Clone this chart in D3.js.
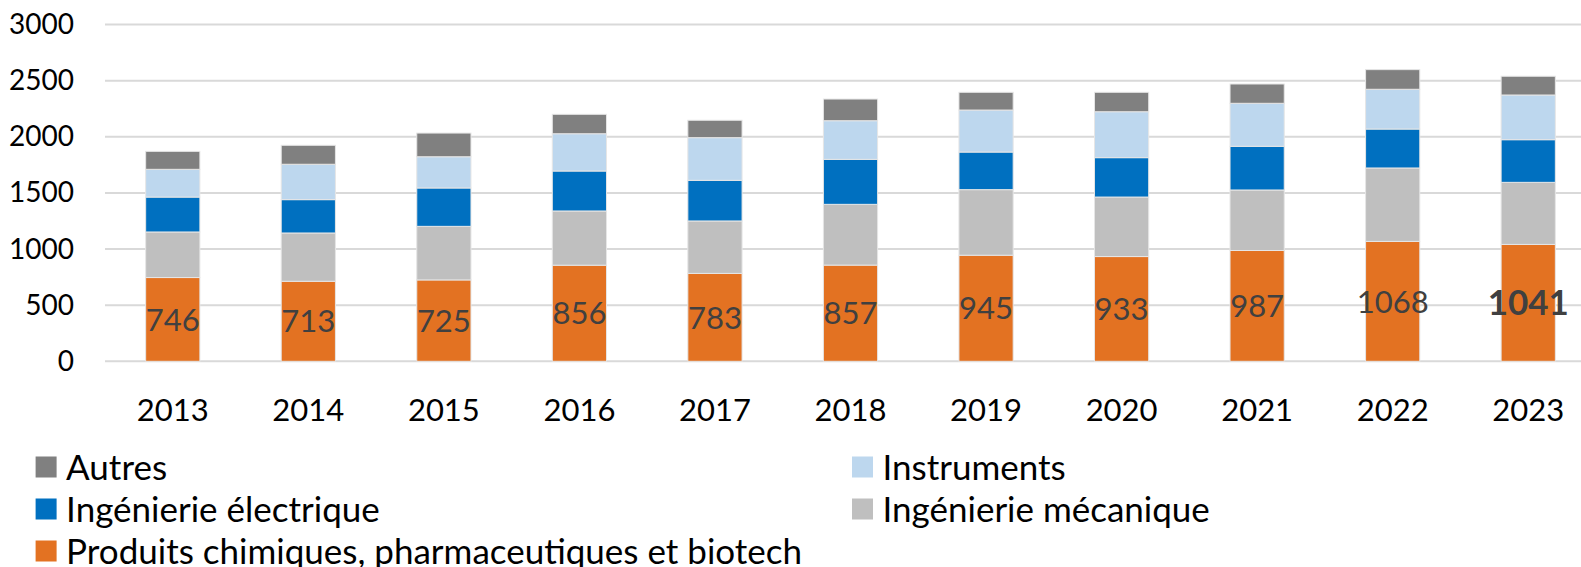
<!DOCTYPE html>
<html>
<head>
<meta charset="utf-8">
<script src="https://cdn.jsdelivr.net/npm/d3@7"></script>
<style>
	html, body { margin: 0; padding: 0; background: #fff; }
	svg { display: block; font-family: Lato, 'Noto Sans', sans-serif; }
</style>
</head>
<body>
<div id="chart"></div>
<script>
// values (stack order, bottom to top)
var years = ['2013', '2014', '2015', '2016', '2017', '2018', '2019', '2020', '2021', '2022', '2023'];
var chimie = [746, 713, 725, 856, 783, 857, 945, 933, 987, 1068, 1041];
var mecanique = [406, 430, 477, 483, 467, 541, 584, 530, 539, 654, 553];
var electrique = [311, 297, 342, 356, 362, 401, 335, 351, 389, 347, 380];
var instruments = [247, 315, 278, 332, 380, 344, 374, 409, 383, 354, 398];
var autres = [160, 169, 211, 173, 155, 193, 158, 173, 172, 175, 167];
var yTicks = [0, 500, 1000, 1500, 2000, 2500, 3000];

var seriesNames = ['Produits chimiques, pharmaceutiques et biotech', 'Ingénierie mécanique',
	'Ingénierie électrique', 'Instruments', 'Autres'];
var seriesValues = [chimie, mecanique, electrique, instruments, autres];
var colors = ['#e37222', '#bfbfbf', '#0070c0', '#bdd7ee', '#808080'];

var width = 1581, height = 567;
var margin = {left: 105, right: -15, top: 24.5, bottom: 205.7};

var svg = d3.select('#chart')
	.append('svg')
	.attr('width', width)
	.attr('height', height);

// build rows for the stack layout
var rows = years.map(function(y, i) {
	var row = {year: y};
	seriesNames.forEach(function(name, s) { row[name] = seriesValues[s][i]; });
	return row;
});
var stacked = d3.stack().keys(seriesNames)(rows);

var x = d3.scaleBand()
	.domain(years)
	.range([margin.left, width - margin.right])
	.paddingInner(0.6)
	.paddingOuter(0.3);

var y = d3.scaleLinear()
	.domain([0, 3000])
	.range([height - margin.bottom, margin.top]);

// gridlines
svg.append('g')
	.selectAll('line')
	.data(yTicks)
	.enter().append('line')
	.attr('x1', margin.left)
	.attr('x2', width - margin.right)
	.attr('y1', function(d) { return y(d); })
	.attr('y2', function(d) { return y(d); })
	.attr('stroke', '#d9d9d9')
	.attr('stroke-width', 2);

// y axis labels
var yAxis = d3.axisLeft(y).tickValues(yTicks).tickFormat(d3.format('d')).tickSize(0).tickPadding(0);
svg.append('g')
	.attr('transform', 'translate(74,0)')
	.call(yAxis)
	.call(function(g) { g.select('.domain').remove(); })
	.selectAll('text')
	.attr('font-family', 'Lato')
	.attr('font-size', 28)
	.attr('fill', '#000');

// x axis labels
var xAxis = d3.axisBottom(x).tickSize(0).tickPadding(0);
svg.append('g')
	.attr('transform', 'translate(0,' + 410 + ')')
	.call(xAxis)
	.call(function(g) { g.select('.domain').remove(); })
	.selectAll('text')
	.attr('dy', '0.35em')
	.attr('font-family', 'Lato')
	.attr('font-size', 31)
	.attr('fill', '#000');

// bars
var layers = svg.selectAll('.layer')
	.data(stacked)
	.enter().append('g')
	.attr('class', 'layer')
	.attr('fill', function(d, i) { return colors[i]; });

layers.selectAll('rect')
	.data(function(d) { return d; })
	.enter().append('rect')
	.attr('x', function(d) { return x(d.data.year); })
	.attr('y', function(d) { return y(d[1]); })
	.attr('width', x.bandwidth())
	.attr('height', function(d) { return y(d[0]) - y(d[1]); })
	.attr('stroke', '#e6e6e6')
	.attr('stroke-width', 1);

// data labels on the bottom series, last one in bold
var last = years.length - 1;
svg.append('g')
	.selectAll('text')
	.data(stacked[0])
	.enter().append('text')
	.attr('x', function(d) { return x(d.data.year) + x.bandwidth() / 2; })
	.attr('y', function(d) { return (y(d[0]) + y(d[1])) / 2; })
	.attr('dy', '0.36em')
	.attr('text-anchor', 'middle')
	.attr('font-size', function(d, i) { return i === last ? 35 : 31; })
	.attr('font-weight', function(d, i) { return i === last ? 'bold' : 'normal'; })
	.attr('fill', '#404040')
	.text(function(d) { return d[1] - d[0]; });

// legend: top series first, two columns
var legendOrder = [4, 3, 2, 1, 0];
var legend = svg.append('g')
	.selectAll('g')
	.data(legendOrder)
	.enter().append('g')
	.attr('transform', function(d, i) {
		return 'translate(' + (i % 2 === 0 ? 35.6 : 852) + ',' + (467 + Math.floor(i / 2) * 42) + ')';
	});

legend.append('rect')
	.attr('x', 0)
	.attr('y', -10.5)
	.attr('width', 21)
	.attr('height', 21)
	.attr('fill', function(d) { return colors[d]; });

legend.append('text')
	.attr('x', 30.5)
	.attr('y', 0)
	.attr('dy', '0.36em')
	.attr('font-size', 35)
	.attr('fill', '#000')
	.text(function(d) { return seriesNames[d]; });
</script>
</body>
</html>
